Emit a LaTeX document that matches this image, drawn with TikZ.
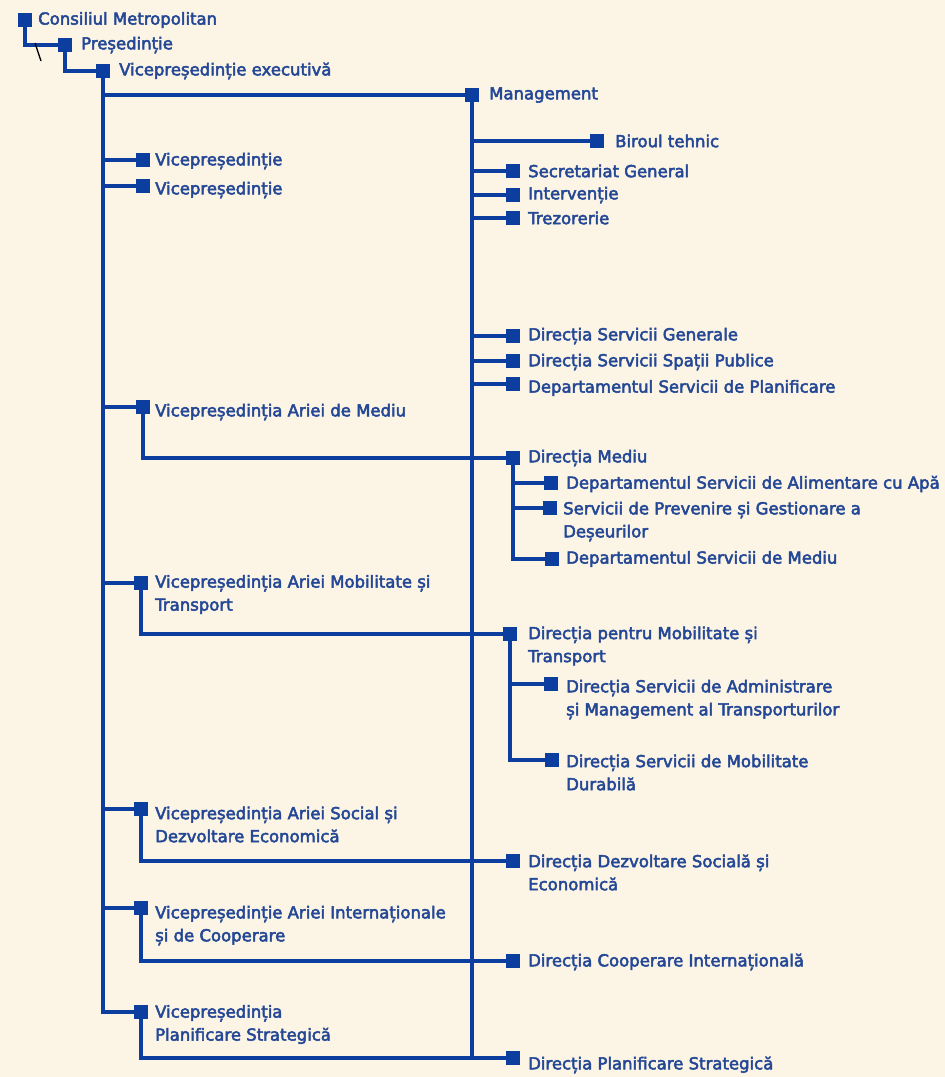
\documentclass[tikz,border=0pt]{standalone}
\usepackage{fontspec}
\setmainfont{DejaVu Sans}[FakeBold=3]
\usetikzlibrary{calc}
\definecolor{paper}{RGB}{252,244,228}
\definecolor{linkblue}{RGB}{12,62,160}
\definecolor{inkblue}{RGB}{36,72,150}
\pgfdeclarelayer{paperlayer}
\pgfdeclarelayer{links}
\pgfsetlayers{paperlayer,links,main}
\tikzset{
  sq/.style={rectangle, fill=linkblue, draw=none, minimum size=14pt, inner sep=0pt},
  lbl/.style={anchor=west, text=inkblue, inner sep=0pt, align=left,
    font=\fontsize{16.5}{23}\selectfont},
  link/.style={draw=linkblue, line width=3.2pt},
}
\begin{document}
\begin{tikzpicture}[x=1pt,y=-1pt]
\begin{pgfonlayer}{paperlayer}
  \fill[paper] (0,0) rectangle (945,1077);
\end{pgfonlayer}
\useasboundingbox (0,0) rectangle (945,1077);

% top of the hierarchy
\node[sq] (cm) at (25,20) {};
\node[lbl] (tcm) at (38,20) {Consiliul Metropolitan};
\node[sq] (pres) at (65,45) {};
\node[lbl] (tpres) at (81,45) {Președinție};
\node[sq] (vex) at (103,71) {};
\node[lbl] (tvex) at (119,71) {Vicepreședinție executivă};

% management column
\node[sq] (mgmt) at (472,95) {};
\node[lbl] (tmgmt) at (489,95) {Management};
\node[sq] (bt) at (597,141) {};
\node[lbl] (tbt) at (615,141) {Biroul tehnic};
\node[sq] (sg) at (513,171) {};
\node[lbl] (tsg) at (528,171) {Secretariat General};
\node[sq] (intv) at (513,195) {};
\node[lbl] (tintv) at (528,195) {Intervenție};
\node[sq] (trz) at (513,218) {};
\node[lbl] (ttrz) at (528,218) {Trezorerie};
\node[sq] (dsg) at (513,336) {};
\node[lbl] (tdsg) at (528,336) {Direcția Servicii Generale};
\node[sq] (dssp) at (513,361) {};
\node[lbl] (tdssp) at (528,362) {Direcția Servicii Spații Publice};
\node[sq] (dspl) at (513,384) {};
\node[lbl] (tdspl) at (528,388) {Departamentul Servicii de Planificare};

% vice-presidencies
\node[sq] (vp1) at (143,160) {};
\node[lbl] (tvp1) at (155,161) {Vicepreședinție};
\node[sq] (vp2) at (143,186) {};
\node[lbl] (tvp2) at (155,190) {Vicepreședinție};
\node[sq] (vmed) at (143,407) {};
\node[lbl] (tvmed) at (155,412) {Vicepreședinția Ariei de Mediu};
\node[sq] (vmob) at (141,583) {};
\node[lbl] (tvmob) at (155,594.5) {Vicepreședinția Ariei Mobilitate și\\Transport};
\node[sq] (vsoc) at (141,809) {};
\node[lbl] (tvsoc) at (155,824.5) {Vicepreședinția Ariei Social și\\Dezvoltare Economică};
\node[sq] (vint) at (141,908) {};
\node[lbl] (tvint) at (155,925.5) {Vicepreședinție Ariei Internaționale\\și de Cooperare};
\node[sq] (vplan) at (141,1012) {};
\node[lbl] (tvplan) at (155,1024.5) {Vicepreședinția\\Planificare Strategică};

% directorates
\node[sq] (dmed) at (513,458) {};
\node[lbl] (tdmed) at (528,458) {Direcția Mediu};
\node[sq] (dalim) at (551,483) {};
\node[lbl] (tdalim) at (566,484) {Departamentul Servicii de Alimentare cu Apă};
\node[sq] (dprev) at (550,508) {};
\node[lbl] (tdprev) at (563,521.5) {Servicii de Prevenire și Gestionare a\\Deșeurilor};
\node[sq] (dsmed) at (552,559) {};
\node[lbl] (tdsmed) at (566,559) {Departamentul Servicii de Mediu};

\node[sq] (dmob) at (510,634) {};
\node[lbl] (tdmob) at (528,646) {Direcția pentru Mobilitate și\\Transport};
\node[sq] (dadm) at (551,684) {};
\node[lbl] (tdadm) at (566,699.5) {Direcția Servicii de Administrare\\și Management al Transporturilor};
\node[sq] (ddur) at (552,760) {};
\node[lbl] (tddur) at (566,772.5) {Direcția Servicii de Mobilitate\\Durabilă};

\node[sq] (dsoc) at (513,861) {};
\node[lbl] (tdsoc) at (528,872.5) {Direcția Dezvoltare Socială și\\Economică};
\node[sq] (dcoop) at (513,961) {};
\node[lbl] (tdcoop) at (528,962) {Direcția Cooperare Internațională};
\node[sq] (dplan) at (513,1058) {};
\node[lbl] (tdplan) at (528,1065) {Direcția Planificare Strategică};

\begin{pgfonlayer}{links}
  \path[link] (cm.center) |- (pres.center);
  \path[link] (pres.center) |- (vex.center);
  % executive spine and its branches
  \path[link] (vex.center) -- (vex.center |- vplan.center) -- (vplan.center);
  \path[link] (vex.center |- mgmt.center) -- (mgmt.center);
  \foreach \n in {vp1,vp2,vmed,vmob,vsoc,vint}
    \path[link] (vex.center |- \n.center) -- (\n.center);
  % management spine and its branches
  \path[link] (mgmt.center) -- (mgmt.center |- dplan.center);
  \foreach \n in {bt,sg,intv,trz,dsg,dssp,dspl}
    \path[link] (mgmt.center |- \n.center) -- (\n.center);
  % each vice-presidency to its directorate
  \foreach \a/\b in {vmed/dmed,vmob/dmob,vsoc/dsoc,vint/dcoop,vplan/dplan}
    \path[link] (\a.center) |- (\b.center);
  % sub-units
  \path[link] (dmed.center) |- (dsmed.center);
  \path[link] (dmed.center |- dalim.center) -- (dalim.center);
  \path[link] (dmed.center |- dprev.center) -- (dprev.center);
  \path[link] (dmob.center) |- (ddur.center);
  \path[link] (dmob.center |- dadm.center) -- (dadm.center);
\end{pgfonlayer}

% small pen stroke under the first elbow
\draw[black, line width=1.3pt] (35,43) -- (41,61);
\end{tikzpicture}
\end{document}
